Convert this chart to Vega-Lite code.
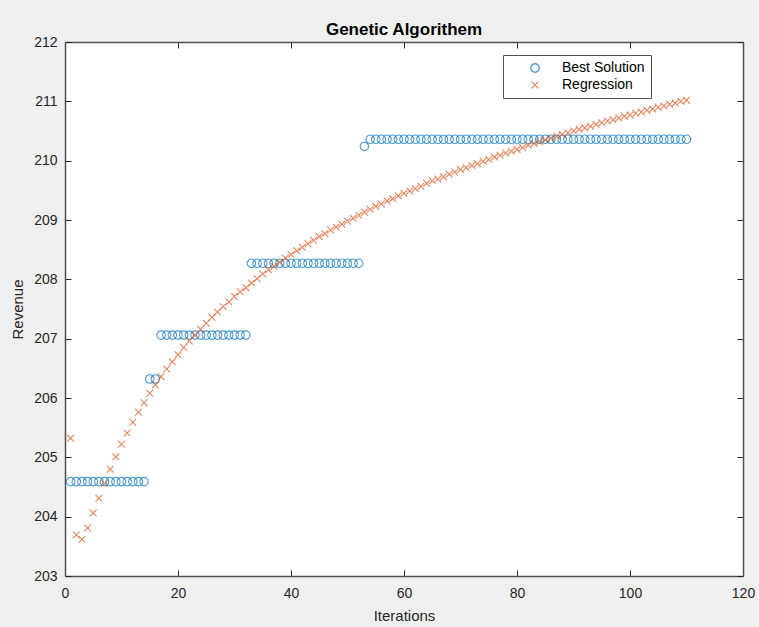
{
  "$schema": "https://vega.github.io/schema/vega-lite/v6.json",
  "width": 678,
  "height": 534,
  "autosize": {"type": "none"},
  "padding": {"left": 65, "top": 42, "right": 16, "bottom": 51},
  "background": "#f0f0f0",
  "title": {"text": "Genetic Algorithem", "fontSize": 17, "fontWeight": "bold", "font": "Liberation Sans", "color": "#000000", "offset": -17, "baseline": "alphabetic", "anchor": "middle"},
  "config": {
    "view": {"stroke": null, "fill": "#ffffff"},
    "axis": {"labelFont": "Liberation Sans", "titleFont": "Liberation Sans", "labelFontSize": 14, "titleFontSize": 15, "labelColor": "#262626", "titleColor": "#262626", "titleFontWeight": "normal", "domainColor": "#505050", "domainWidth": 1.5, "tickColor": "#262626", "tickWidth": 1, "grid": false, "labelFlush": false}
  },
  "data": {"values": [
    {"i":1,"v":204.59,"s":"Best Solution"},{"i":2,"v":204.59,"s":"Best Solution"},{"i":3,"v":204.59,"s":"Best Solution"},{"i":4,"v":204.59,"s":"Best Solution"},{"i":5,"v":204.59,"s":"Best Solution"},{"i":6,"v":204.59,"s":"Best Solution"},{"i":7,"v":204.59,"s":"Best Solution"},{"i":8,"v":204.59,"s":"Best Solution"},{"i":9,"v":204.59,"s":"Best Solution"},{"i":10,"v":204.59,"s":"Best Solution"},
    {"i":11,"v":204.59,"s":"Best Solution"},{"i":12,"v":204.59,"s":"Best Solution"},{"i":13,"v":204.59,"s":"Best Solution"},{"i":14,"v":204.59,"s":"Best Solution"},{"i":15,"v":206.32,"s":"Best Solution"},{"i":16,"v":206.32,"s":"Best Solution"},{"i":17,"v":207.06,"s":"Best Solution"},{"i":18,"v":207.06,"s":"Best Solution"},{"i":19,"v":207.06,"s":"Best Solution"},{"i":20,"v":207.06,"s":"Best Solution"},
    {"i":21,"v":207.06,"s":"Best Solution"},{"i":22,"v":207.06,"s":"Best Solution"},{"i":23,"v":207.06,"s":"Best Solution"},{"i":24,"v":207.06,"s":"Best Solution"},{"i":25,"v":207.06,"s":"Best Solution"},{"i":26,"v":207.06,"s":"Best Solution"},{"i":27,"v":207.06,"s":"Best Solution"},{"i":28,"v":207.06,"s":"Best Solution"},{"i":29,"v":207.06,"s":"Best Solution"},{"i":30,"v":207.06,"s":"Best Solution"},
    {"i":31,"v":207.06,"s":"Best Solution"},{"i":32,"v":207.06,"s":"Best Solution"},{"i":33,"v":208.27,"s":"Best Solution"},{"i":34,"v":208.27,"s":"Best Solution"},{"i":35,"v":208.27,"s":"Best Solution"},{"i":36,"v":208.27,"s":"Best Solution"},{"i":37,"v":208.27,"s":"Best Solution"},{"i":38,"v":208.27,"s":"Best Solution"},{"i":39,"v":208.27,"s":"Best Solution"},{"i":40,"v":208.27,"s":"Best Solution"},
    {"i":41,"v":208.27,"s":"Best Solution"},{"i":42,"v":208.27,"s":"Best Solution"},{"i":43,"v":208.27,"s":"Best Solution"},{"i":44,"v":208.27,"s":"Best Solution"},{"i":45,"v":208.27,"s":"Best Solution"},{"i":46,"v":208.27,"s":"Best Solution"},{"i":47,"v":208.27,"s":"Best Solution"},{"i":48,"v":208.27,"s":"Best Solution"},{"i":49,"v":208.27,"s":"Best Solution"},{"i":50,"v":208.27,"s":"Best Solution"},
    {"i":51,"v":208.27,"s":"Best Solution"},{"i":52,"v":208.27,"s":"Best Solution"},{"i":53,"v":210.24,"s":"Best Solution"},{"i":54,"v":210.36,"s":"Best Solution"},{"i":55,"v":210.36,"s":"Best Solution"},{"i":56,"v":210.36,"s":"Best Solution"},{"i":57,"v":210.36,"s":"Best Solution"},{"i":58,"v":210.36,"s":"Best Solution"},{"i":59,"v":210.36,"s":"Best Solution"},{"i":60,"v":210.36,"s":"Best Solution"},
    {"i":61,"v":210.36,"s":"Best Solution"},{"i":62,"v":210.36,"s":"Best Solution"},{"i":63,"v":210.36,"s":"Best Solution"},{"i":64,"v":210.36,"s":"Best Solution"},{"i":65,"v":210.36,"s":"Best Solution"},{"i":66,"v":210.36,"s":"Best Solution"},{"i":67,"v":210.36,"s":"Best Solution"},{"i":68,"v":210.36,"s":"Best Solution"},{"i":69,"v":210.36,"s":"Best Solution"},{"i":70,"v":210.36,"s":"Best Solution"},
    {"i":71,"v":210.36,"s":"Best Solution"},{"i":72,"v":210.36,"s":"Best Solution"},{"i":73,"v":210.36,"s":"Best Solution"},{"i":74,"v":210.36,"s":"Best Solution"},{"i":75,"v":210.36,"s":"Best Solution"},{"i":76,"v":210.36,"s":"Best Solution"},{"i":77,"v":210.36,"s":"Best Solution"},{"i":78,"v":210.36,"s":"Best Solution"},{"i":79,"v":210.36,"s":"Best Solution"},{"i":80,"v":210.36,"s":"Best Solution"},
    {"i":81,"v":210.36,"s":"Best Solution"},{"i":82,"v":210.36,"s":"Best Solution"},{"i":83,"v":210.36,"s":"Best Solution"},{"i":84,"v":210.36,"s":"Best Solution"},{"i":85,"v":210.36,"s":"Best Solution"},{"i":86,"v":210.36,"s":"Best Solution"},{"i":87,"v":210.36,"s":"Best Solution"},{"i":88,"v":210.36,"s":"Best Solution"},{"i":89,"v":210.36,"s":"Best Solution"},{"i":90,"v":210.36,"s":"Best Solution"},
    {"i":91,"v":210.36,"s":"Best Solution"},{"i":92,"v":210.36,"s":"Best Solution"},{"i":93,"v":210.36,"s":"Best Solution"},{"i":94,"v":210.36,"s":"Best Solution"},{"i":95,"v":210.36,"s":"Best Solution"},{"i":96,"v":210.36,"s":"Best Solution"},{"i":97,"v":210.36,"s":"Best Solution"},{"i":98,"v":210.36,"s":"Best Solution"},{"i":99,"v":210.36,"s":"Best Solution"},{"i":100,"v":210.36,"s":"Best Solution"},
    {"i":101,"v":210.36,"s":"Best Solution"},{"i":102,"v":210.36,"s":"Best Solution"},{"i":103,"v":210.36,"s":"Best Solution"},{"i":104,"v":210.36,"s":"Best Solution"},{"i":105,"v":210.36,"s":"Best Solution"},{"i":106,"v":210.36,"s":"Best Solution"},{"i":107,"v":210.36,"s":"Best Solution"},{"i":108,"v":210.36,"s":"Best Solution"},{"i":109,"v":210.36,"s":"Best Solution"},{"i":110,"v":210.36,"s":"Best Solution"},
    {"i":1,"v":205.32,"s":"Regression"},{"i":2,"v":203.69,"s":"Regression"},{"i":3,"v":203.62,"s":"Regression"},{"i":4,"v":203.81,"s":"Regression"},{"i":5,"v":204.06,"s":"Regression"},{"i":6,"v":204.31,"s":"Regression"},{"i":7,"v":204.56,"s":"Regression"},{"i":8,"v":204.80,"s":"Regression"},{"i":9,"v":205.01,"s":"Regression"},{"i":10,"v":205.22,"s":"Regression"},
    {"i":11,"v":205.41,"s":"Regression"},{"i":12,"v":205.59,"s":"Regression"},{"i":13,"v":205.76,"s":"Regression"},{"i":14,"v":205.92,"s":"Regression"},{"i":15,"v":206.08,"s":"Regression"},{"i":16,"v":206.22,"s":"Regression"},{"i":17,"v":206.36,"s":"Regression"},{"i":18,"v":206.49,"s":"Regression"},{"i":19,"v":206.61,"s":"Regression"},{"i":20,"v":206.73,"s":"Regression"},
    {"i":21,"v":206.85,"s":"Regression"},{"i":22,"v":206.96,"s":"Regression"},{"i":23,"v":207.06,"s":"Regression"},{"i":24,"v":207.16,"s":"Regression"},{"i":25,"v":207.26,"s":"Regression"},{"i":26,"v":207.36,"s":"Regression"},{"i":27,"v":207.45,"s":"Regression"},{"i":28,"v":207.54,"s":"Regression"},{"i":29,"v":207.62,"s":"Regression"},{"i":30,"v":207.71,"s":"Regression"},
    {"i":31,"v":207.79,"s":"Regression"},{"i":32,"v":207.86,"s":"Regression"},{"i":33,"v":207.94,"s":"Regression"},{"i":34,"v":208.01,"s":"Regression"},{"i":35,"v":208.09,"s":"Regression"},{"i":36,"v":208.16,"s":"Regression"},{"i":37,"v":208.22,"s":"Regression"},{"i":38,"v":208.29,"s":"Regression"},{"i":39,"v":208.36,"s":"Regression"},{"i":40,"v":208.42,"s":"Regression"},
    {"i":41,"v":208.48,"s":"Regression"},{"i":42,"v":208.54,"s":"Regression"},{"i":43,"v":208.60,"s":"Regression"},{"i":44,"v":208.66,"s":"Regression"},{"i":45,"v":208.72,"s":"Regression"},{"i":46,"v":208.77,"s":"Regression"},{"i":47,"v":208.83,"s":"Regression"},{"i":48,"v":208.88,"s":"Regression"},{"i":49,"v":208.93,"s":"Regression"},{"i":50,"v":208.98,"s":"Regression"},
    {"i":51,"v":209.03,"s":"Regression"},{"i":52,"v":209.08,"s":"Regression"},{"i":53,"v":209.13,"s":"Regression"},{"i":54,"v":209.18,"s":"Regression"},{"i":55,"v":209.23,"s":"Regression"},{"i":56,"v":209.27,"s":"Regression"},{"i":57,"v":209.32,"s":"Regression"},{"i":58,"v":209.36,"s":"Regression"},{"i":59,"v":209.41,"s":"Regression"},{"i":60,"v":209.45,"s":"Regression"},
    {"i":61,"v":209.49,"s":"Regression"},{"i":62,"v":209.53,"s":"Regression"},{"i":63,"v":209.57,"s":"Regression"},{"i":64,"v":209.62,"s":"Regression"},{"i":65,"v":209.66,"s":"Regression"},{"i":66,"v":209.69,"s":"Regression"},{"i":67,"v":209.73,"s":"Regression"},{"i":68,"v":209.77,"s":"Regression"},{"i":69,"v":209.81,"s":"Regression"},{"i":70,"v":209.85,"s":"Regression"},
    {"i":71,"v":209.88,"s":"Regression"},{"i":72,"v":209.92,"s":"Regression"},{"i":73,"v":209.95,"s":"Regression"},{"i":74,"v":209.99,"s":"Regression"},{"i":75,"v":210.02,"s":"Regression"},{"i":76,"v":210.06,"s":"Regression"},{"i":77,"v":210.09,"s":"Regression"},{"i":78,"v":210.13,"s":"Regression"},{"i":79,"v":210.16,"s":"Regression"},{"i":80,"v":210.19,"s":"Regression"},
    {"i":81,"v":210.22,"s":"Regression"},{"i":82,"v":210.26,"s":"Regression"},{"i":83,"v":210.29,"s":"Regression"},{"i":84,"v":210.32,"s":"Regression"},{"i":85,"v":210.35,"s":"Regression"},{"i":86,"v":210.38,"s":"Regression"},{"i":87,"v":210.41,"s":"Regression"},{"i":88,"v":210.44,"s":"Regression"},{"i":89,"v":210.47,"s":"Regression"},{"i":90,"v":210.50,"s":"Regression"},
    {"i":91,"v":210.53,"s":"Regression"},{"i":92,"v":210.55,"s":"Regression"},{"i":93,"v":210.58,"s":"Regression"},{"i":94,"v":210.61,"s":"Regression"},{"i":95,"v":210.64,"s":"Regression"},{"i":96,"v":210.67,"s":"Regression"},{"i":97,"v":210.69,"s":"Regression"},{"i":98,"v":210.72,"s":"Regression"},{"i":99,"v":210.75,"s":"Regression"},{"i":100,"v":210.77,"s":"Regression"},
    {"i":101,"v":210.80,"s":"Regression"},{"i":102,"v":210.82,"s":"Regression"},{"i":103,"v":210.85,"s":"Regression"},{"i":104,"v":210.87,"s":"Regression"},{"i":105,"v":210.90,"s":"Regression"},{"i":106,"v":210.92,"s":"Regression"},{"i":107,"v":210.95,"s":"Regression"},{"i":108,"v":210.97,"s":"Regression"},{"i":109,"v":211.00,"s":"Regression"},{"i":110,"v":211.02,"s":"Regression"}
  ]},
  "resolve": {"axis": {"x": "independent", "y": "independent"}},
  "layer": [
    {
      "mark": {"type": "point", "filled": false, "strokeWidth": 1.1},
      "encoding": {
        "x": {"field": "i", "type": "quantitative", "title": "Iterations", "scale": {"domain": [0, 120], "nice": false, "zero": false}, "axis": {"orient": "bottom", "values": [0, 20, 40, 60, 80, 100, 120], "tickSize": -6, "labelPadding": 16, "titlePadding": 8}},
        "y": {"field": "v", "type": "quantitative", "title": "Revenue", "scale": {"domain": [203, 212], "nice": false, "zero": false}, "axis": {"orient": "left", "values": [203, 204, 205, 206, 207, 208, 209, 210, 211, 212], "tickSize": -6, "labelPadding": 14, "titlePadding": 8}},
        "color": {"field": "s", "type": "nominal", "scale": {"domain": ["Best Solution", "Regression"], "range": ["#0072BD", "#D95319"]}, "legend": {"title": null, "orient": "none", "legendX": 438, "legendY": 13, "direction": "vertical", "fillColor": "#ffffff", "strokeColor": "#505050", "padding": 6, "symbolOffset": 19, "labelOffset": 20, "labelFont": "Liberation Sans", "labelFontSize": 14, "labelColor": "#000000", "symbolSize": 60, "symbolStrokeWidth": 1.3, "rowPadding": 3, "cornerRadius": 0}},
        "shape": {"field": "s", "type": "nominal", "scale": {"domain": ["Best Solution", "Regression"], "range": ["circle", "M-1,-1L1,1M-1,1L1,-1"]}},
        "size": {"field": "s", "type": "nominal", "scale": {"domain": ["Best Solution", "Regression"], "range": [72, 45]}, "legend": null}
      }
    },
    {
      "mark": {"type": "point", "opacity": 0},
      "encoding": {
        "x": {"field": "i", "type": "quantitative", "axis": {"orient": "top", "values": [0, 20, 40, 60, 80, 100, 120], "tickSize": -6, "labels": false, "title": null}},
        "y": {"field": "v", "type": "quantitative", "axis": {"orient": "right", "values": [203, 204, 205, 206, 207, 208, 209, 210, 211, 212], "tickSize": -6, "labels": false, "title": null}}
      }
    }
  ]
}
